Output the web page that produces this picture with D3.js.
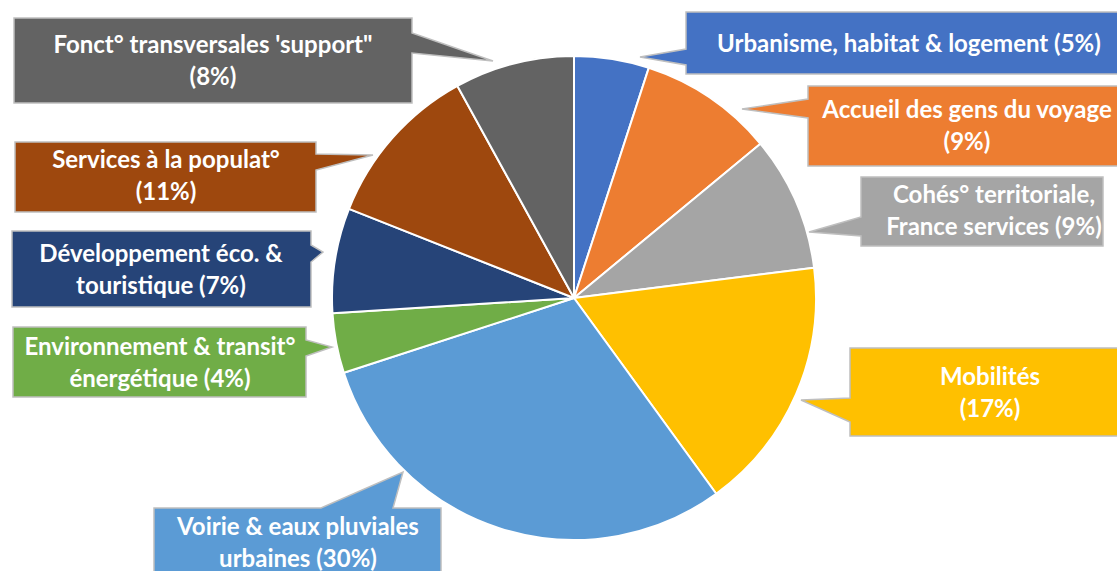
<!DOCTYPE html>
<html>
<head>
<meta charset="utf-8">
<script src="https://cdn.jsdelivr.net/npm/d3@7"></script>
<style>
  body { margin: 0; background: #fff; }
  svg { display: block; }
  .lbl { font-family: Lato, "Open Sans", sans-serif; font-weight: 700; fill: #fff; }
</style>
</head>
<body>
<div id="chart"></div>
<script>
// budget shares by domain, clockwise from 12 o'clock
var categories = [
  "Urbanisme, habitat & logement",
  "Accueil des gens du voyage",
  "Cohés° territoriale, France services",
  "Mobilités",
  "Voirie & eaux pluviales urbaines",
  "Environnement & transit° énergétique",
  "Développement éco. & touristique",
  "Services à la populat°",
  "Fonct° transversales 'support\""
];
var shares = [5, 9, 9, 17, 30, 4, 7, 11, 8];
var colors = ["#4472C4", "#ED7D31", "#A5A5A5", "#FFC000", "#5B9BD5",
              "#70AD47", "#264478", "#9E480E", "#636363"];
// how each label is broken on lines (the % goes last)
var labelLines = [
  ["Urbanisme, habitat & logement (5%)"],
  ["Accueil des gens du voyage", "(9%)"],
  ["Cohés° territoriale,", "France services (9%)"],
  ["Mobilités", "(17%)"],
  ["Voirie & eaux pluviales", "urbaines (30%)"],
  ["Environnement & transit°", "énergétique (4%)"],
  ["Développement éco. &", "touristique (7%)"],
  ["Services à la populat°", "(11%)"],
  ["Fonct° transversales 'support\"", "(8%)"]
];

var width = 1117, height = 571;
var cx = 574, cy = 298, radius = 242;

// callout layout: box [x0,y0,x1,y1], side the pointer leaves from, base of pointer, tip, text center x, first baseline
var callouts = [
  {box: [686, 12, 1130, 74],  side: "left",  base: [49, 65],   tip: [640, 57],  tx: 909, ty: 52},
  {box: [808, 86, 1130, 166], side: "left",  base: [99, 118],  tip: [742, 109], tx: 967, ty: 118},
  {box: [861, 177, 1103, 246],side: "left",  base: [217, 236], tip: [809, 232], tx: 994, ty: 203},
  {box: [850, 348, 1130, 436],side: "left",  base: [398, 422], tip: [801, 400], tx: 990, ty: 385},
  {box: [154, 508, 441, 590], side: "top",   base: [321, 393], tip: [403, 472], tx: 298, ty: 535},
  {box: [13, 327, 306, 397],  side: "right", base: [340, 356], tip: [332, 347], tx: 160, ty: 355},
  {box: [12, 231, 311, 307],  side: "right", base: [245, 262], tip: [323, 252], tx: 161, ty: 262},
  {box: [15, 142, 316, 212],  side: "right", base: [154, 170], tip: [373, 155], tx: 166, ty: 168},
  {box: [14, 18, 412, 103],   side: "right", base: [33, 53],   tip: [493, 61],  tx: 213, ty: 53}
];
var lineGap = 32;

var svg = d3.select("#chart").append("svg")
    .attr("width", width)
    .attr("height", height);

var pie = d3.pie().sort(null).value(function(d) { return d; });
var arc = d3.arc().innerRadius(0).outerRadius(radius);

var g = svg.append("g")
    .attr("transform", "translate(" + cx + "," + cy + ")");

g.selectAll("path.slice")
    .data(pie(shares))
    .enter().append("path")
    .attr("class", "slice")
    .attr("d", arc)
    .attr("fill", function(d, i) { return colors[i]; })
    .attr("stroke", "#fff")
    .attr("stroke-width", 2)
    .attr("stroke-linejoin", "round");

function calloutPath(c) {
  var x0 = c.box[0], y0 = c.box[1], x1 = c.box[2], y1 = c.box[3];
  var p = d3.path();
  p.moveTo(x0, y0);
  if (c.side === "top") {
    p.lineTo(c.base[0], y0); p.lineTo(c.tip[0], c.tip[1]); p.lineTo(c.base[1], y0);
  }
  p.lineTo(x1, y0);
  if (c.side === "right") {
    p.lineTo(x1, c.base[0]); p.lineTo(c.tip[0], c.tip[1]); p.lineTo(x1, c.base[1]);
  }
  p.lineTo(x1, y1);
  p.lineTo(x0, y1);
  if (c.side === "left") {
    p.lineTo(x0, c.base[1]); p.lineTo(c.tip[0], c.tip[1]); p.lineTo(x0, c.base[0]);
  }
  p.closePath();
  return p.toString();
}

var labels = svg.selectAll("g.callout")
    .data(callouts)
    .enter().append("g")
    .attr("class", "callout");

labels.append("path")
    .attr("d", calloutPath)
    .attr("fill", function(d, i) { return colors[i]; })
    .attr("stroke", "#BFBFBF")
    .attr("stroke-width", 1.5);

labels.each(function(c, i) {
  var t = d3.select(this).append("text")
      .attr("class", "lbl")
      .attr("text-anchor", "middle")
      .style("font-size", "24px");
  labelLines[i].forEach(function(line, k) {
    t.append("tspan")
        .attr("x", c.tx)
        .attr("y", c.ty + k * lineGap)
        .text(line);
  });
});
</script>
</body>
</html>
